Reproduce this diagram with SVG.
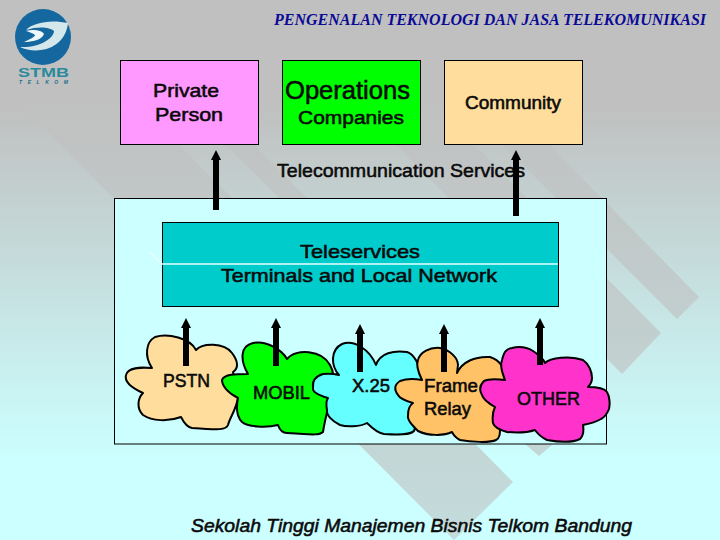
<svg xmlns="http://www.w3.org/2000/svg" width="720" height="540" viewBox="0 0 720 540">
<style>
.t{font-family:"Liberation Sans",Arial,sans-serif;font-weight:400;fill:#0a0a0a;stroke:#0a0a0a;stroke-width:.55}
.box{stroke:#000;stroke-width:1}
.cloud{stroke:#000;stroke-width:2;stroke-linejoin:round}
.ar{stroke:#000;stroke-width:6;fill:none;marker-end:url(#h)}
.band{fill:url(#bandfill)}
</style>
<defs>
<linearGradient id="bg" x1="0" y1="0" x2="0" y2="1"><stop offset="0" stop-color="#c0c0c0"/><stop offset=".2" stop-color="#c0c0c0"/><stop offset=".85" stop-color="#ccffff"/><stop offset="1" stop-color="#ccffff"/></linearGradient>
<linearGradient id="bandfill" gradientUnits="userSpaceOnUse" x1="0" y1="100" x2="0" y2="540"><stop offset="0" stop-color="#c0c0c0"/><stop offset="1" stop-color="#c4dcdc"/></linearGradient>
<marker id="h" markerUnits="userSpaceOnUse" markerWidth="10" markerHeight="10" refX="1" refY="5" orient="auto"><path d="M0 0L10 5L0 10Z" fill="#000"/></marker>
</defs>
<rect id="background" width="720" height="540" fill="url(#bg)"/>
<g id="bands">
<polygon class="band" points="16,100 135,100 513,482 454,540"/>
<polygon class="band" points="181,100 209,100 553,444 539,456 525,444"/>
<polygon class="band" points="505,100 699,297 677,319 458,100"/>
<polygon class="band" points="430,100 661,333 622,374 352,100"/>
</g>
<g id="logo">
<circle cx="43" cy="37" r="28" fill="#14689f"/>
<path d="M68 23C50 19 32 23 26 30C38 26 50 27 54 31C54 38 40 48 20 47C36 55 65 50 68 23Z" fill="#d4e8ec"/>
<path d="M26 31C32 29 42 30 44 34C42 40 32 42 24 42C30 39 35 37 35 35C33 33 29 32 26 31Z" fill="#eef8fa"/>
<text x="18" y="77" font-family="'Liberation Sans',sans-serif" font-size="13" font-weight="700" textLength="51" lengthAdjust="spacingAndGlyphs" fill="#2a8a9c">STMB</text>
<text x="19" y="84" font-family="'Liberation Sans',sans-serif" font-size="5" font-style="italic" font-weight="700" textLength="49" fill="#1a6f88">TELKOM</text>
</g>
<text id="title" x="274" y="25" font-family="'Liberation Serif',serif" font-size="16" font-weight="700" font-style="italic" textLength="432" lengthAdjust="spacingAndGlyphs" fill="#0a0a96">PENGENALAN TEKNOLOGI DAN JASA TELEKOMUNIKASI</text>
<g id="private"><rect class="box" x="120.5" y="60.5" width="138" height="84" fill="#ff99ff"/><text class="t" x="153" y="97" font-size="19" textLength="66" lengthAdjust="spacingAndGlyphs">Private</text><text class="t" x="155" y="121" font-size="19" textLength="68" lengthAdjust="spacingAndGlyphs">Person</text></g>
<g id="operations"><rect class="box" x="282.5" y="60.5" width="138" height="84" fill="#00ff00"/><text class="t" x="285" y="99" font-size="25" textLength="125" lengthAdjust="spacingAndGlyphs">Operations</text><text class="t" x="298" y="124" font-size="19" textLength="106" lengthAdjust="spacingAndGlyphs">Companies</text></g>
<g id="community"><rect class="box" x="444.5" y="60.5" width="138" height="84" fill="#ffdd9c"/><text class="t" x="465" y="109" font-size="18" textLength="96" lengthAdjust="spacingAndGlyphs">Community</text></g>
<text id="services-label" class="t" x="277" y="177" font-size="19" textLength="248" lengthAdjust="spacingAndGlyphs">Telecommunication Services</text>
<g id="container"><rect class="box" x="114.5" y="198.5" width="492" height="245.5" fill="#ccffff"/></g>
<g id="teleservices"><rect class="box" x="162.5" y="222.5" width="396" height="84" fill="#00cccc"/>
<path d="M150 252L162 264H558" fill="none" stroke="#e6ffff" stroke-width="1.5"/>
<text class="t" x="300" y="258" font-size="19" textLength="120" lengthAdjust="spacingAndGlyphs">Teleservices</text><text class="t" x="221" y="282" font-size="19" textLength="276" lengthAdjust="spacingAndGlyphs">Terminals and Local Network</text></g>
<g id="pstn"><path class="cloud" fill="#ffdd9c" d="M152 368C144 356 146 342 155 337C168 333 190 338 196 350C202 343 224 342 232 353C238 361 239 368 233 372L238 398C236 410 230 417 228 425C226 430 220 430 192 428C186 427 183 421 181 417C168 422 152 421 143 415C136 408 138 398 143 393C132 388 124 382 126 375C128 367 140 367 152 368Z"/><text class="t" x="163" y="387" font-size="18" textLength="47" lengthAdjust="spacingAndGlyphs">PSTN</text></g>
<g id="mobil"><path class="cloud" fill="#00ff00" d="M248 374C240 360 240 346 253 343C266 340 282 350 287 359C296 348 322 350 330 365C335 374 333 376 330 400C327 412 324 425 323 432C320 435 315 435 287 433C281 433 279 428 278 425C266 428 248 427 242 422C236 416 236 408 238 398C228 393 222 386 222 380C224 374 236 374 248 374Z"/><text class="t" x="253" y="399" font-size="18" textLength="57" lengthAdjust="spacingAndGlyphs">MOBIL</text></g>
<g id="x25"><path class="cloud" fill="#66ffff" d="M339 375C331 366 330 350 342 344C354 339 370 350 376 365C380 353 394 350 407 352C416 355 420 368 422 378L410 410C414 418 417 426 414 431C410 435 400 435 384 434C377 433 371 427 367 423C360 427 346 427 340 425C332 421 326 415 327 410C326 405 326 401 328 398C318 395 312 392 313 388C312 380 316 376 323 374C330 373 335 374 339 375Z"/><text class="t" x="352" y="392" font-size="18" textLength="38" lengthAdjust="spacingAndGlyphs">X.25</text></g>
<g id="frame"><path class="cloud" fill="#ffc266" d="M422 380C418 372 416 365 418 360C420 352 430 347 440 348C450 350 458 358 458 365L457 373C462 362 475 356 490 357C500 360 506 370 507 378L500 427C500 434 500 438 496 440C490 443 470 442 460 440C456 438 453 434 452 432C444 436 428 436 418 431C412 425 407 420 408 415C408 410 410 405 413 403C406 401 400 399 398 395C394 390 394 385 400 381C408 378 416 379 422 380Z"/><text class="t" x="424" y="392" font-size="18" textLength="54" lengthAdjust="spacingAndGlyphs">Frame</text><text class="t" x="424" y="415" font-size="18" textLength="47" lengthAdjust="spacingAndGlyphs">Relay</text></g>
<g id="other"><path class="cloud" fill="#ff33cc" d="M505 380C502 372 500 366 502 360C504 352 506 349 512 348C520 346 528 348 533 351C538 354 544 360 545 363C550 358 570 355 583 360C589 364 592 372 592 378C592 382 590 385 588 387C596 387 604 388 607 392C610 397 610 405 609 409C607 414 605 417 601 419C594 423 588 424 583 425C584 431 583 436 580 439C572 443 558 442 547 440C541 437 537 433 535 430C526 433 516 433 507 432C500 430 494 427 493 423C492 416 493 411 495 407C488 403 483 399 482 395C479 390 480 385 484 381C490 378 498 379 505 380Z"/><text class="t" x="517" y="405" font-size="18" textLength="63" lengthAdjust="spacingAndGlyphs">OTHER</text></g>
<g id="connectors">
<path class="ar" d="M216 210V159"/><path class="ar" d="M516 216V159"/>
<path class="ar" d="M186 366V327"/><path class="ar" d="M276 366V327"/><path class="ar" d="M360 372V333"/><path class="ar" d="M444 372V333"/><path class="ar" d="M540 365V327"/>
</g>
<text id="footer" class="t" x="191" y="532" font-size="19" font-style="italic" textLength="441" lengthAdjust="spacingAndGlyphs">Sekolah Tinggi Manajemen Bisnis Telkom Bandung</text>
</svg>
